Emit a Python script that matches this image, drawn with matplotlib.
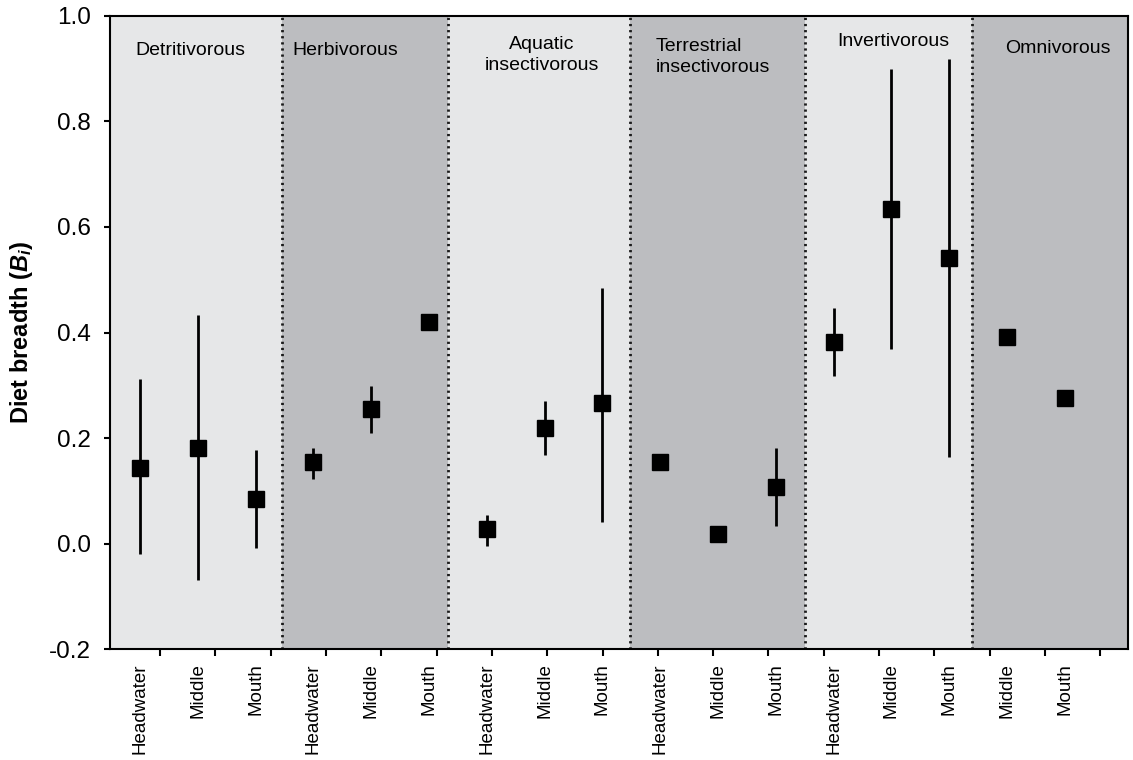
import numpy as np
import matplotlib
matplotlib.use('Agg')
import matplotlib.pyplot as plt

plt.rcParams['font.family'] = ['Liberation Sans', 'DejaVu Sans']
plt.rcParams['mathtext.fontset'] = 'custom'
plt.rcParams['mathtext.it'] = 'Liberation Sans:italic:bold'
plt.rcParams['mathtext.rm'] = 'Liberation Sans:bold'

# feeding guilds and the sites sampled in each
guilds = ['Detritivorous', 'Herbivorous', 'Aquatic\ninsectivorous',
          'Terrestrial\ninsectivorous', 'Invertivorous', 'Omnivorous']
sites = [['Headwater', 'Middle', 'Mouth'],
         ['Headwater', 'Middle', 'Mouth'],
         ['Headwater', 'Middle', 'Mouth'],
         ['Headwater', 'Middle', 'Mouth'],
         ['Headwater', 'Middle', 'Mouth'],
         ['Middle', 'Mouth']]

# diet breadth (Bi): mean, lower and upper end of the bar (nan = no bar)
mean = [0.144, 0.181, 0.084, 0.154, 0.256, 0.420, 0.028, 0.219, 0.266,
        0.154, 0.019, 0.108, 0.382, 0.634, 0.541, 0.392, 0.275]
low = [-0.019, -0.069, -0.009, 0.122, 0.210, np.nan, -0.004, 0.168, 0.042,
       np.nan, np.nan, 0.033, 0.317, 0.368, 0.164, np.nan, np.nan]
high = [0.312, 0.433, 0.177, 0.181, 0.298, np.nan, 0.055, 0.270, 0.484,
        np.nan, np.nan, 0.181, 0.447, 0.899, 0.918, np.nan, np.nan]

labels = [s for g in sites for s in g]
x = np.arange(len(labels))
mean = np.array(mean)
yerr = [mean - np.array(low), np.array(high) - mean]

fig = plt.figure(figsize=(11.33, 7.6), dpi=100)
ax = fig.add_axes([0.0971, 0.1457, 0.8985, 0.8336])

xmin, xmax = -0.519, 17.093
bounds = [xmin, 2.462, 5.324, 8.478, 11.505, 14.40, xmax]
shades = ['#e6e7e8', '#bcbdc0']
for k in range(len(guilds)):
    ax.axvspan(bounds[k], bounds[k + 1], color=shades[k % 2], lw=0, zorder=0)
for b in bounds[1:-1]:
    ax.axvline(b, color='#1a1a1a', lw=2, ls=(0, (0.8, 1.4)), zorder=1)

# guild titles
tx = [0.865, 3.547, 6.955, 9.913, 13.04, 15.88]
ty = [0.935, 0.935, 0.925, 0.921, 0.952, 0.938]
for k, g in enumerate(guilds):
    al = 'left' if g.startswith('Terrestrial') else 'center'
    ax.text(tx[k], ty[k], g, ha='center', va='center', fontsize=14,
            linespacing=1.3, multialignment=al, zorder=3)

ax.errorbar(x, mean, yerr=yerr, fmt='s', color='black', ms=11,
            elinewidth=2, capsize=0, zorder=4)

ax.set_xlim(xmin, xmax)
ax.set_ylim(-0.2, 1.0)
ax.set_yticks([-0.2, 0.0, 0.2, 0.4, 0.6, 0.8, 1.0])
ax.set_yticklabels(['-0.2', '0.0', '0.2', '0.4', '0.6', '0.8', '1.0'])
ax.tick_params(axis='y', labelsize=17.5, length=4, width=1.5, pad=10)

ax.set_xticks(x)
ax.set_xticklabels(labels, rotation=90, fontsize=13.5)
ax.tick_params(axis='x', which='major', length=0, pad=10)
ax.set_xticks(0.346 + 0.957 * np.arange(18), minor=True)
ax.tick_params(axis='x', which='minor', length=5, width=1.5)

for sp in ax.spines.values():
    sp.set_linewidth(1.5)
    sp.set_zorder(5)

ax.set_ylabel(r'Diet breadth ($B_i$)', fontsize=17, fontweight='bold')
ax.yaxis.set_label_coords(-0.074, 0.5)

fig.savefig('out.png', dpi=100)
